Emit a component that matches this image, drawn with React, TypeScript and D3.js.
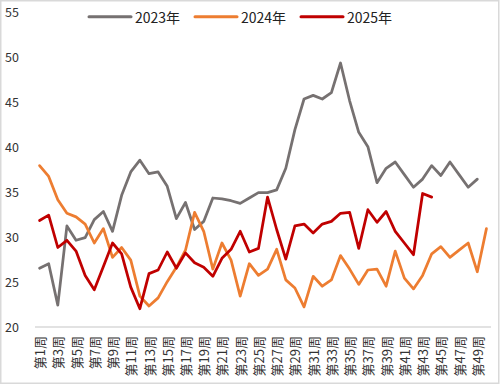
import React from "react";
import * as d3 from "d3";

const weeks: string[] = Array.from({ length: 50 }, (_, i) => `第${i + 1}周`);

const s2023: number[] = [
  26.5, 27.0, 22.4, 31.2, 29.6, 29.9, 31.9, 32.8, 30.6, 34.6,
  37.2, 38.5, 37.0, 37.2, 35.6, 32.0, 33.8, 30.8, 31.7, 34.3,
  34.2, 34.0, 33.7, 34.3, 34.9, 34.9, 35.2, 37.6, 41.9, 45.3,
  45.7, 45.3, 46.0, 49.3, 45.1, 41.6, 40.0, 36.0, 37.6, 38.3,
  36.9, 35.5, 36.4, 37.9, 36.8, 38.3, 36.9, 35.5, 36.4,
];

const s2024: number[] = [
  37.9, 36.7, 34.1, 32.6, 32.2, 31.4, 29.3, 30.9, 27.7, 28.8,
  27.4, 23.4, 22.3, 23.2, 25.0, 26.6, 28.5, 32.7, 30.6, 26.4,
  29.3, 27.4, 23.4, 27.0, 25.7, 26.4, 28.6, 25.2, 24.3, 22.2,
  25.6, 24.5, 25.2, 27.9, 26.4, 24.7, 26.3, 26.4, 24.5, 28.4,
  25.4, 24.2, 25.7, 28.1, 28.9, 27.7, 28.5, 29.3, 26.1, 30.9,
];

const s2025: number[] = [
  31.8, 32.4, 28.8, 29.6, 28.4, 25.7, 24.1, 26.7, 29.3, 28.1,
  24.4, 22.0, 25.9, 26.3, 28.3, 26.5, 28.2, 27.1, 26.6, 25.6,
  27.6, 28.6, 30.6, 28.3, 28.7, 34.4, 30.8, 27.5, 31.2, 31.4,
  30.4, 31.4, 31.7, 32.6, 32.7, 28.7, 33.0, 31.6, 32.8, 30.6,
  29.3, 28.0, 34.8, 34.4,
];

const yTicks: number[] = [20, 25, 30, 35, 40, 45, 50, 55];

const seriesNames: string[] = ["2023年", "2024年", "2025年"];
const seriesColors: string[] = ["#767171", "#ED7D31", "#C00000"];
const seriesData: number[][] = [s2023, s2024, s2025];

const W = 501;
const H = 386;
const FONT = "'Noto Sans CJK SC', 'Noto Sans', sans-serif";

export default function App() {
  const x = d3.scalePoint<string>().domain(weeks).range([35, 491]).padding(0.5);
  const y = d3.scaleLinear().domain([20, 55]).range([326.7, 11.7]);

  const line = d3
    .line<number>()
    .x((_, i) => x(weeks[i]) as number)
    .y((d) => y(d));

  const legendX = [89, 195, 301];

  return (
    <svg
      width={W}
      height={H}
      style={{ position: "absolute", left: 0, top: 0, display: "block" }}
      fontFamily={FONT}
    >
      <rect x={0.75} y={0.75} width={498} height={382.5} fill="#fff" stroke="#d9d9d9" strokeWidth={1.5} />

      {/* y tick labels */}
      {yTicks.map((t) => (
        <text key={t} x={19} y={y(t)} textAnchor="end" dominantBaseline="central" fontSize={12.5} fill="#333">
          {t}
        </text>
      ))}

      {/* x axis line */}
      <line x1={35} x2={491} y1={327} y2={327} stroke="#d9d9d9" strokeWidth={1.5} />

      {/* x tick labels */}
      {weeks.map((w, i) =>
        i % 2 === 0 ? (
          <text
            key={w}
            transform={`translate(${x(w)},336) rotate(-90)`}
            textAnchor="end"
            dominantBaseline="central"
            fontSize={13}
            fill="#333"
          >
            {w}
          </text>
        ) : null
      )}

      {/* series lines */}
      {seriesData.map((d, k) => (
        <path
          key={k}
          d={line(d) || ""}
          fill="none"
          stroke={seriesColors[k]}
          strokeWidth={2.75}
          strokeLinejoin="round"
          strokeLinecap="round"
        />
      ))}

      {/* legend */}
      {seriesNames.map((n, k) => (
        <g key={n}>
          <line
            x1={legendX[k]}
            x2={legendX[k] + 42}
            y1={16.7}
            y2={16.7}
            stroke={seriesColors[k]}
            strokeWidth={3}
            strokeLinecap="round"
          />
          <text x={legendX[k] + 46} y={16.7} dominantBaseline="central" fontSize={14} fill="#222">
            {n}
          </text>
        </g>
      ))}
    </svg>
  );
}
